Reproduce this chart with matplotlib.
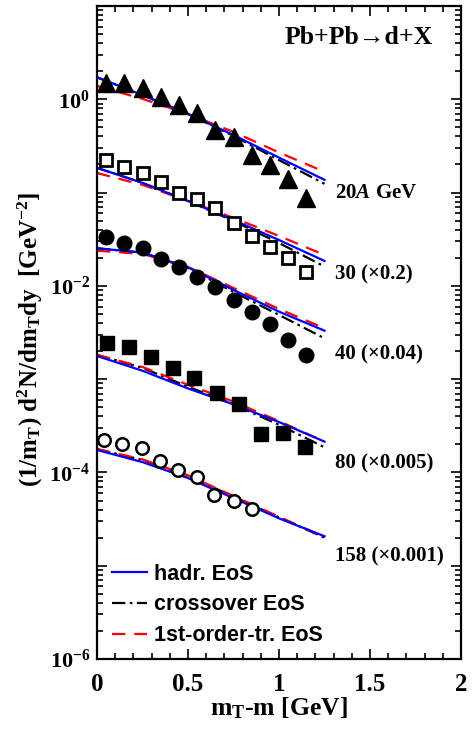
import numpy as np
import matplotlib
matplotlib.use('Agg')
import matplotlib.pyplot as plt
from matplotlib.ticker import LogLocator, FuncFormatter, MultipleLocator, NullFormatter
from matplotlib.lines import Line2D

# ---------------- data ----------------
energy_labels = [r'20$\mathit{A}$ GeV', '30 (×0.2)', '40 (×0.04)', '80 (×0.005)', '158 (×0.001)']

x_20 = [0.05, 0.15, 0.25, 0.35, 0.45, 0.55, 0.65, 0.75, 0.85, 0.95, 1.05, 1.15]
y_20 = [1.48, 1.48, 1.31, 1.07, 0.87, 0.71, 0.47, 0.39, 0.253, 0.198, 0.139, 0.087]

x_30 = [0.05, 0.15, 0.25, 0.35, 0.45, 0.55, 0.65, 0.75, 0.85, 0.95, 1.05, 1.15]
y_30 = [0.224, 0.187, 0.161, 0.131, 0.098, 0.0847, 0.0689, 0.0476, 0.0343, 0.0263, 0.0198, 0.0140]

x_40 = [0.05, 0.15, 0.25, 0.35, 0.45, 0.55, 0.65, 0.75, 0.85, 0.95, 1.05, 1.15]
y_40 = [0.0332, 0.0286, 0.0253, 0.0193, 0.0161, 0.0124, 0.00966, 0.00706, 0.00529, 0.00387, 0.00263, 0.00182]

x_80 = [0.053, 0.176, 0.297, 0.416, 0.535, 0.658, 0.78, 0.90, 1.02, 1.143]
y_80 = [0.00243, 0.00220, 0.00174, 0.00131, 0.00102, 7.06e-4, 5.42e-4, 2.59e-4, 2.63e-4, 1.86e-4]

x_158 = [0.04, 0.14, 0.245, 0.345, 0.445, 0.55, 0.645, 0.75, 0.85]
y_158 = [2.23e-4, 2.02e-4, 1.82e-4, 1.34e-4, 1.06e-4, 8.9e-5, 5.74e-5, 4.95e-5, 4.04e-5]

curve_x = [0.0, 0.25, 0.5, 0.75, 1.0, 1.25]
hadr_20 = [1.72, 1.11, 0.695, 0.414, 0.237, 0.137]
cross_20 = [1.72, 1.11, 0.695, 0.405, 0.223, 0.124]
first_20 = [1.39, 1.01, 0.695, 0.447, 0.269, 0.167]

hadr_30 = [0.184, 0.127, 0.0813, 0.0508, 0.0310, 0.0185]
cross_30 = [0.184, 0.127, 0.0813, 0.0496, 0.0288, 0.0161]
first_30 = [0.162, 0.121, 0.0813, 0.0535, 0.0343, 0.0214]

hadr_40 = [0.0253, 0.0227, 0.0158, 0.00904, 0.00529, 0.00331]
cross_40 = [0.0253, 0.0227, 0.01556, 0.0086, 0.00488, 0.00274]
first_40 = [0.0238, 0.0220, 0.01595, 0.0095, 0.00565, 0.00351]

hadr_80 = [1.77e-3, 1.23e-3, 7.94e-4, 5.37e-4, 3.47e-4, 2.14e-4]
cross_80 = [1.82e-3, 1.32e-3, 8.3e-4, 5.37e-4, 3.24e-4, 1.86e-4]
first_80 = [1.82e-3, 1.35e-3, 8.7e-4, 5.75e-4, 3.55e-4, 2.14e-4]

hadr_158 = [1.74e-4, 1.29e-4, 8.7e-5, 5.3e-5, 3.22e-5, 2.07e-5]
cross_158 = [1.78e-4, 1.36e-4, 9.2e-5, 5.5e-5, 3.3e-5, 2.0e-5]
first_158 = [1.78e-4, 1.38e-4, 9.3e-5, 5.6e-5, 3.35e-5, 2.02e-5]

legend_labels = ['hadr. EoS', 'crossover EoS', '1st-order-tr. EoS']

# ---------------- style ----------------
plt.rcParams['font.family'] = ['Liberation Serif', 'DejaVu Serif']
plt.rcParams['font.weight'] = 'bold'
plt.rcParams['mathtext.fontset'] = 'custom'
plt.rcParams['mathtext.rm'] = 'Liberation Serif:bold'
plt.rcParams['mathtext.it'] = 'Liberation Serif:bold:italic'
plt.rcParams['mathtext.bf'] = 'Liberation Serif:bold'
plt.rcParams['mathtext.default'] = 'rm'

fig = plt.figure(figsize=(4.75, 7.30), dpi=100)
ax = fig.add_axes([97/475, 1 - 659/730, (461-97)/475, (659-6)/730])
ax.set_yscale('log')
ax.set_xlim(0, 2)
ax.set_ylim(1e-6, 10)

series = [
    (x_20, y_20, dict(marker='^', ms=13, mfc='black', mec='black')),
    (x_30, y_30, dict(marker='s', ms=8.5, mfc='white', mec='black', mew=2.0)),
    (x_40, y_40, dict(marker='o', ms=10.5, mfc='black', mec='black')),
    (x_80, y_80, dict(marker='s', ms=10.5, mfc='black', mec='black')),
    (x_158, y_158, dict(marker='o', ms=9, mfc='white', mec='black', mew=1.8)),
]
curves = [
    (hadr_20, cross_20, first_20),
    (hadr_30, cross_30, first_30),
    (hadr_40, cross_40, first_40),
    (hadr_80, cross_80, first_80),
    (hadr_158, cross_158, first_158),
]

lw = 1.6
dash_cross = (6, 2, 1.2, 2)
dash_first = (6, 4)
for (h, c, f) in curves:
    ax.plot(curve_x, c, color='black', lw=lw, dashes=dash_cross, zorder=2)
    ax.plot(curve_x, f, color='#ff0000', lw=lw, dashes=dash_first, zorder=2.2)
    ax.plot(curve_x, h, color='#0000ff', lw=lw, zorder=2.4)

for (xs, ys, kw) in series:
    ax.plot(xs, ys, ls='none', zorder=3, clip_on=False, **kw)

# energy labels
label_y = [0.099, 0.0134, 0.00186, 1.26e-4, 1.27e-5]
for txt, yy in zip(energy_labels, label_y):
    ax.text(1.31, yy, txt, fontsize=15, fontweight='bold', ha='left', va='center')

# title
ax.text(0.923, 0.951, 'Pb+Pb→d+X', transform=ax.transAxes, fontsize=18.5,
        fontweight='bold', ha='right', va='center',
        family=['Liberation Serif', 'DejaVu Serif'])

# legend
handles = [
    Line2D([], [], color='#0000ff', lw=lw),
    Line2D([], [], color='black', lw=lw, dashes=dash_cross),
    Line2D([], [], color='#ff0000', lw=lw, dashes=dash_first),
]
leg = ax.legend(handles, legend_labels, loc='upper left', bbox_to_anchor=(0.04, 0.146),
                frameon=False, borderpad=0, borderaxespad=0, handlelength=1.65,
                handletextpad=0.3, labelspacing=0.45,
                prop=dict(family='Liberation Sans', weight='bold', size=15.5))

# ticks
ax.xaxis.set_major_locator(MultipleLocator(0.5))
ax.xaxis.set_minor_locator(MultipleLocator(0.1))
ax.xaxis.set_major_formatter(FuncFormatter(lambda v, p: ('%g' % v)))
ax.yaxis.set_major_locator(LogLocator(base=10, numticks=20))
ax.yaxis.set_minor_locator(LogLocator(base=10, subs=np.arange(2, 10), numticks=20))
ax.yaxis.set_minor_formatter(NullFormatter())

def yfmt(v, p):
    e = int(round(np.log10(v)))
    if e % 2 == 0:
        return r'$10^{%d}$' % e
    return ''
ax.yaxis.set_major_formatter(FuncFormatter(yfmt))

ax.tick_params(which='both', direction='in', top=True, right=True, width=1.2)
ax.tick_params(which='major', length=7)
ax.tick_params(which='minor', length=4.5)
ax.tick_params(axis='x', which='major', labelsize=18, pad=10)
ax.tick_params(axis='y', which='major', labelsize=16, pad=5)
for lab in ax.get_xticklabels() + ax.get_yticklabels():
    lab.set_fontweight('bold')
for s in ax.spines.values():
    s.set_linewidth(1.6)

ax.set_xlabel(r'm$_\mathrm{T}$-m [GeV]', fontsize=18.5, fontweight='bold', labelpad=0)
ax.set_ylabel(r'(1/m$_\mathrm{T}$) d$^\mathrm{2}$N/dm$_\mathrm{T}$dy  [GeV$^{-2}$]',
              fontsize=18, fontweight='bold')
ax.yaxis.set_label_coords(-0.143, 0.49)

fig.savefig('out.png', dpi=100)
